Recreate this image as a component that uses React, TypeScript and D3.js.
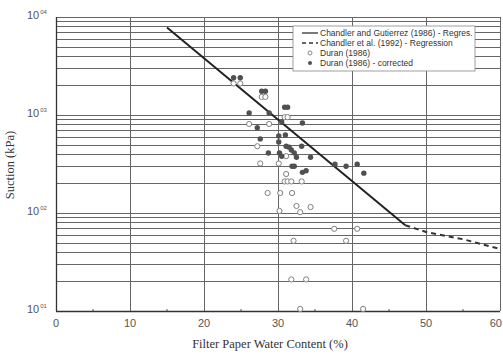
import React, { useEffect, useRef } from 'react';
import * as d3 from 'd3';

// Duran (1986) - raw points
const waterOpen = [24.0, 24.9, 27.8, 28.3, 30.9, 31.3, 26.1, 28.8, 27.2, 31.1, 27.6, 30.1, 31.1, 30.9, 31.3, 31.8, 33.2, 28.6, 30.3, 31.9, 32.5, 33.0, 34.4, 30.2, 37.6, 40.7, 32.1, 39.2, 31.8, 33.8, 33.0, 41.5];
const suctionOpen = [2100, 2100, 1530, 1530, 950, 950, 810, 810, 480, 380, 320, 320, 250, 210, 210, 210, 210, 160, 160, 160, 118, 102, 115, 105, 69, 69, 52, 52, 21, 21, 10.5, 10.5];

// Duran (1986) - corrected
const waterFilled = [24.0, 24.9, 27.8, 28.3, 26.1, 28.8, 30.9, 31.3, 33.3, 27.2, 27.6, 30.1, 31.0, 30.1, 31.1, 31.5, 33.2, 28.7, 30.2, 30.5, 32.5, 34.4, 32.2, 33.3, 33.8, 39.2, 40.7, 41.6, 37.7, 30.5, 31.9, 32.2, 31.8];
const suctionFilled = [2400, 2400, 1750, 1750, 1050, 1050, 1200, 1200, 830, 740, 570, 610, 625, 530, 480, 470, 480, 410, 410, 380, 370, 370, 300, 260, 270, 300, 315, 255, 315, 850, 300, 410, 440];

// Chandler and Gutierrez (1986) regression
const regWater = [15, 47.2];
const regSuction = [7800, 75];

// Chandler et al. (1992) regression
const dashWater = [47.2, 50, 55, 60];
const dashSuction = [75, 64, 54, 43];

const xTicks = [0, 10, 20, 30, 40, 50, 60];
const xMinorTicks = [5, 15, 25, 35, 45, 55];
const yDecades = [10, 100, 1000, 10000];
const yDecadeLabels = ['01', '02', '03', '04'];

const legendItems = [
  'Chandler and Gutierrez (1986) - Regres.',
  'Chandler et al. (1992) - Regression',
  'Duran (1986)',
  'Duran (1986) - corrected',
];

const App = () => {
  const svgRef = useRef<SVGSVGElement>(null);

  useEffect(() => {
    const width = 503;
    const height = 354;
    const left = 56;
    const top = 17;
    const plotW = 444;
    const plotH = 294;

    const svg = d3.select(svgRef.current)
      .attr('width', width)
      .attr('height', height);
    svg.selectAll('*').remove();

    const x = d3.scaleLinear().domain([0, 60]).range([left, left + plotW]);
    const y = d3.scaleLog().domain([10, 10000]).range([top + plotH, top]);

    const grid = svg.append('g');
    // horizontal log grid
    grid.selectAll('line.h')
      .data(y.ticks())
      .enter()
      .append('line')
      .attr('x1', left)
      .attr('x2', left + plotW)
      .attr('y1', d => Math.round(y(d)) + 0.5)
      .attr('y2', d => Math.round(y(d)) + 0.5)
      .attr('stroke', '#666')
      .attr('stroke-width', 1);
    // vertical grid
    grid.selectAll('line.v')
      .data(xTicks)
      .enter()
      .append('line')
      .attr('x1', d => Math.round(x(d)) + 0.5)
      .attr('x2', d => Math.round(x(d)) + 0.5)
      .attr('y1', top)
      .attr('y2', top + plotH)
      .attr('stroke', '#666')
      .attr('stroke-width', 1);
    // axes
    svg.append('line')
      .attr('x1', left + 0.5).attr('x2', left + 0.5)
      .attr('y1', top).attr('y2', top + plotH)
      .attr('stroke', '#333').attr('stroke-width', 1.3);
    svg.append('line')
      .attr('x1', left).attr('x2', left + plotW)
      .attr('y1', top + plotH + 0.5).attr('y2', top + plotH + 0.5)
      .attr('stroke', '#333').attr('stroke-width', 1.3);
    svg.selectAll('line.minor')
      .data(xMinorTicks)
      .enter()
      .append('line')
      .attr('x1', d => x(d))
      .attr('x2', d => x(d))
      .attr('y1', top + plotH - 2)
      .attr('y2', top + plotH)
      .attr('stroke', '#555');

    // x tick labels (last one pinned to the right edge so it stays visible)
    svg.selectAll('text.xt')
      .data(xTicks)
      .enter()
      .append('text')
      .attr('x', d => (d === 60 ? width - 1 : x(d)))
      .attr('y', 327)
      .attr('text-anchor', d => (d === 60 ? 'end' : 'middle'))
      .style('font-family', 'Liberation Sans, Arial, sans-serif')
      .style('font-size', '11px')
      .style('fill', '#555')
      .text(d => d);

    // y tick labels
    const yl = svg.selectAll('text.yt')
      .data(yDecades)
      .enter()
      .append('text')
      .attr('x', 27)
      .attr('y', d => y(d) + 2)
      .style('font-family', 'Liberation Sans, Arial, sans-serif')
      .style('font-size', '11px')
      .style('fill', '#555');
    yl.append('tspan').text('10');
    yl.append('tspan')
      .attr('dy', -5)
      .attr('dx', 1)
      .style('font-size', '6px')
      .text((d, i) => yDecadeLabels[i]);

    // axis titles
    svg.append('text')
      .attr('transform', `translate(14,165) rotate(-90)`)
      .attr('text-anchor', 'middle')
      .style('font-family', 'Liberation Serif, Times New Roman, serif')
      .style('font-size', '12.5px')
      .style('fill', '#333')
      .text('Suction (kPa)');
    svg.append('text')
      .attr('x', 270)
      .attr('y', 348)
      .attr('text-anchor', 'middle')
      .style('font-family', 'Liberation Serif, Times New Roman, serif')
      .style('font-size', '12.5px')
      .style('fill', '#333')
      .text('Filter Paper Water Content (%)');

    // regression lines
    const line = d3.line<[number, number]>()
      .x(d => x(d[0]))
      .y(d => y(d[1]));
    svg.append('path')
      .attr('d', line(regWater.map((w, i) => [w, regSuction[i]] as [number, number])))
      .attr('fill', 'none')
      .attr('stroke', '#222')
      .attr('stroke-width', 2);
    svg.append('path')
      .attr('d', line(dashWater.map((w, i) => [w, dashSuction[i]] as [number, number])))
      .attr('fill', 'none')
      .attr('stroke', '#333')
      .attr('stroke-width', 2)
      .attr('stroke-dasharray', '5,4');

    // points
    svg.selectAll('circle.open')
      .data(waterOpen)
      .enter()
      .append('circle')
      .attr('cx', d => x(d))
      .attr('cy', (d, i) => y(suctionOpen[i]))
      .attr('r', 2.6)
      .attr('fill', '#fff')
      .attr('stroke', '#808080')
      .attr('stroke-width', 1);
    svg.selectAll('circle.filled')
      .data(waterFilled)
      .enter()
      .append('circle')
      .attr('cx', d => x(d))
      .attr('cy', (d, i) => y(suctionFilled[i]))
      .attr('r', 2.7)
      .attr('fill', '#505050');

    // legend
    const lg = svg.append('g').attr('transform', 'translate(293,26)');
    lg.append('rect')
      .attr('width', 182)
      .attr('height', 45)
      .attr('fill', '#fff')
      .attr('stroke', '#888')
      .attr('stroke-width', 0.8);
    const rows = lg.selectAll('g.row')
      .data(legendItems)
      .enter()
      .append('g')
      .attr('transform', (d, i) => `translate(0,${7 + i * 10})`);
    rows.append('text')
      .attr('x', 27)
      .attr('y', 3)
      .style('font-family', 'Liberation Sans, Arial, sans-serif')
      .style('font-size', '8.5px')
      .style('fill', '#333')
      .text(d => d);
    lg.append('line')
      .attr('x1', 9).attr('x2', 25).attr('y1', 7).attr('y2', 7)
      .attr('stroke', '#333').attr('stroke-width', 1.3);
    lg.append('line')
      .attr('x1', 9).attr('x2', 25).attr('y1', 17).attr('y2', 17)
      .attr('stroke', '#333').attr('stroke-width', 1.6)
      .attr('stroke-dasharray', '4,3');
    lg.append('circle')
      .attr('cx', 17).attr('cy', 27).attr('r', 2)
      .attr('fill', '#fff').attr('stroke', '#888');
    lg.append('circle')
      .attr('cx', 17).attr('cy', 37).attr('r', 2)
      .attr('fill', '#505050');
  }, []);

  return (
    <div style={{ position: 'absolute', left: 0, top: 0 }}>
      <svg ref={svgRef} style={{ display: 'block' }}></svg>
    </div>
  );
};

export default App;
